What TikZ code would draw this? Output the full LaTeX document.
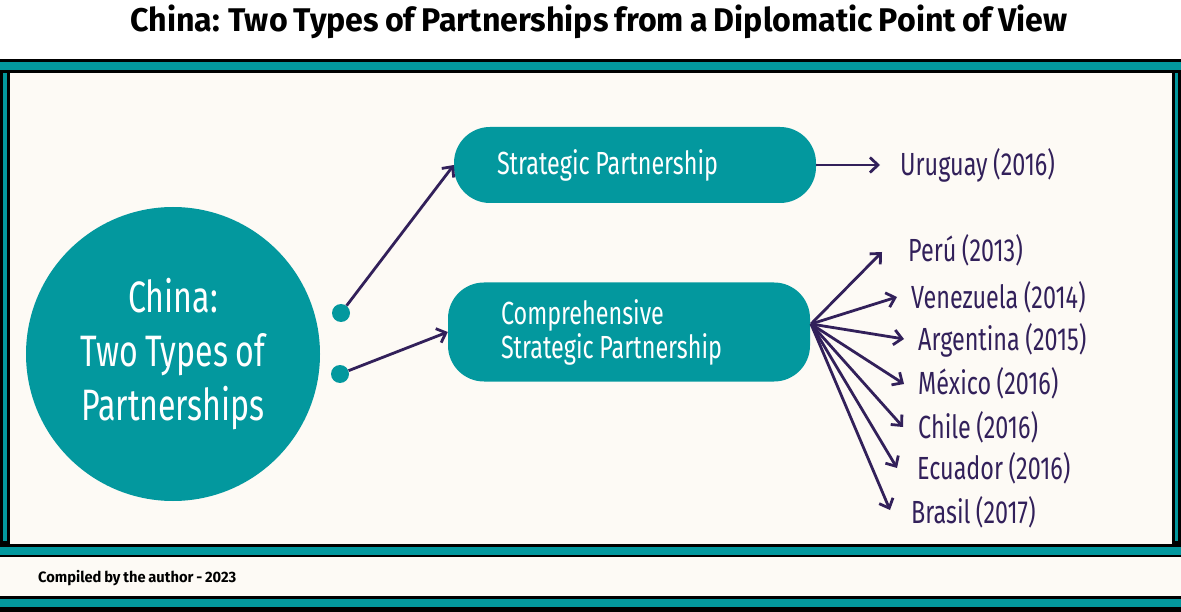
\documentclass[tikz,border=0pt]{standalone}
\usepackage{fontspec}
\setmainfont{Fira Sans}
\newfontfamily\narrowfont[FakeStretch=0.73, WordSpace=0.9]{Fira Sans}
\newfontfamily\headfont[FakeStretch=0.98, WordSpace=0.8]{Fira Sans}
\usetikzlibrary{arrows.meta, positioning}
\definecolor{TealBand}{RGB}{3,152,158}
\definecolor{DeepPurple}{RGB}{50,32,90}
\definecolor{Cream}{RGB}{253,250,245}

\begin{document}
\begin{tikzpicture}[x=1pt, y=-1pt,
  hub/.style={circle, fill=TealBand, minimum size=294pt, inner sep=0pt,
              text=white, align=center,
              font=\narrowfont\fontsize{44}{54}\selectfont},
  kind/.style={fill=TealBand, rounded corners=36pt, text=white,
               align=flush left, inner ysep=0pt,
               font=\narrowfont\fontsize{32}{34}\selectfont},
  dot/.style={circle, fill=TealBand, minimum size=18pt, inner sep=0pt},
  country/.style={anchor=west, inner sep=0pt, text=DeepPurple,
                  font=\narrowfont\fontsize{32}{34}\selectfont},
  arr/.style={-{Straight Barb[length=8pt, width=15pt]}, DeepPurple,
              line width=2.8pt},
]
\useasboundingbox (0,0) rectangle (1181,612);
% Frame and bands
\fill[white] (0,0) rectangle (1181,612);
\fill[Cream] (0,59) rectangle (1181,596);
\fill[black] (0,59) rectangle (1181,73);
\fill[TealBand] (0,62) rectangle (1181,70);
\fill[black] (0,73) rectangle (10,544);
\fill[TealBand] (3,73) rectangle (7,541);
\fill[black] (1172,73) rectangle (1181,544);
\fill[TealBand] (1175,73) rectangle (1178,541);
\fill[black] (0,544) rectangle (1181,557);
\fill[TealBand] (0,547) rectangle (1181,555);
\fill[black] (0,596) rectangle (1181,612);
\fill[TealBand] (0,599) rectangle (1181,607);

\node[font=\headfont\bfseries\fontsize{32.8}{36}\selectfont] (title) at (599,22)
  {China: Two Types of Partnerships from a Diplomatic Point of View};
\node[anchor=west, inner sep=0pt, font=\headfont\bfseries\fontsize{15}{18}\selectfont]
  (source) at (38,578) {Compiled by the author - 2023};

% Centre and the two kinds
\node[hub] (china) at (173,354) {China:\\Two Types of\\Partnerships};
\node[dot] (dot1) at (341,313) {};
\node[dot] (dot2) at (340,374) {};
\node[kind, minimum height=76pt, inner xsep=43pt, text width=276pt]
  (strat) at (635,165) {Strategic Partnership};
\node[kind, minimum height=99pt, inner xsep=53pt, text width=256pt]
  (compr) at (629,332) {Comprehensive\\Strategic Partnership};
\draw[arr] (dot1) -- (strat.west);
\draw[arr] (dot2) -- (compr.west);

% Countries
\coordinate (tip-uru) at (880,165);
\node[country] (uru) at (900,165) {Uruguay (2016)};
\draw[arr] (strat.east) -- (tip-uru);
\coordinate (fan) at (811,324);
\foreach \nm/\tx/\ty/\lx/\ly/\lbl in {
  peru/882/252/908/250/Perú (2013),
  vene/897/297/911/297/Venezuela (2014),
  arge/904/339/918/340/Argentina (2015),
  mexi/904/384/918/383/México (2016),
  chil/903/427/918/427/Chile (2016),
  ecua/897/468/917/468/Ecuador (2016),
  bras/890/510/911/512/Brasil (2017)}
{
  \coordinate (tip-\nm) at (\tx,\ty);
  \node[country] (\nm) at (\lx,\ly) {\lbl};
  \draw[arr] (fan) -- (tip-\nm);
}
\end{tikzpicture}
\end{document}
